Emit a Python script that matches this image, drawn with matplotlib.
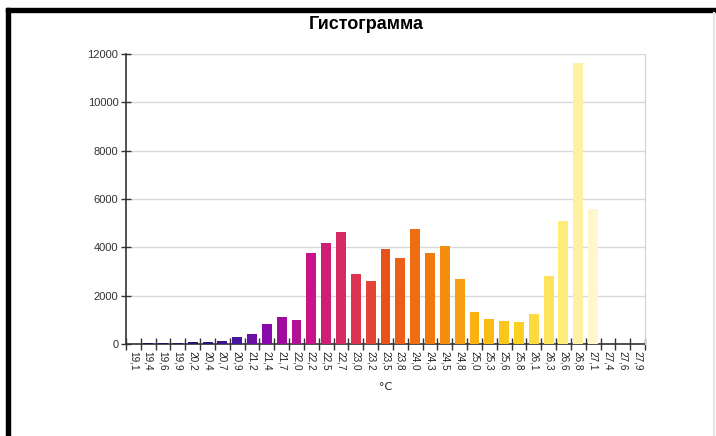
import numpy as np
import matplotlib
matplotlib.use('Agg')
import matplotlib.pyplot as plt
from matplotlib.colors import LinearSegmentedColormap
from matplotlib.patches import Rectangle

# подписи интервалов температуры
labels = ['19,1', '19,4', '19,6', '19,9', '20,2', '20,4', '20,7', '20,9', '21,2',
          '21,4', '21,7', '22,0', '22,2', '22,5', '22,7', '23,0', '23,2', '23,5',
          '23,8', '24,0', '24,3', '24,5', '24,8', '25,0', '25,3', '25,6', '25,8',
          '26,1', '26,3', '26,6', '26,8', '27,1', '27,4', '27,6', '27,9']
# частоты
counts = [0, 40, 40, 40, 80, 80, 110, 275, 430, 840, 1100, 1005, 3750, 4165,
          4620, 2880, 2590, 3915, 3545, 4750, 3755, 4045, 2680, 1340, 1050,
          950, 925, 1255, 2830, 5090, 11620, 5600, 0, 0, 0]

title = 'Гистограмма'
xlabel = '°C'
yticks = [0, 2000, 4000, 6000, 8000, 10000, 12000]

cmap = LinearSegmentedColormap.from_list('heat', [
    (0.0, '#100a30'), (0.03, '#1c1450'), (0.15, '#2d1675'), (0.206, '#4a16a0'),
    (0.265, '#8a0aa8'), (0.353, '#c8138a'), (0.441, '#dd3550'), (0.5, '#e8521c'),
    (0.588, '#f27a0c'), (0.676, '#fab012'), (0.765, '#fdd020'), (0.853, '#feec78'),
    (0.912, '#fff8cc'), (1.0, '#ffffff')])

n = len(labels)
x = np.arange(n)
colors = [cmap(i / (n - 1)) for i in x]

fig = plt.figure(figsize=(7.16, 4.36), dpi=100)
ax = fig.add_axes([126 / 716, 1 - 344 / 436, (645 - 126) / 716, (344 - 54) / 436])

ax.bar(x, counts, width=0.67, color=colors, zorder=3)

ax.set_xlim(-0.5, n - 0.5)
ax.set_ylim(0, 12000)
ax.set_yticks(yticks)
ax.set_yticklabels([str(v) for v in yticks], fontsize=8, color='#333333',
                   family='Liberation Sans')
ax.yaxis.grid(True, color='#d9d9d9', linewidth=1, zorder=0)

ax.set_xticks(np.arange(-0.5, n, 1.0))
ax.set_xticklabels([])
ax.set_xticks(x, minor=True)
ax.set_xticklabels(labels, minor=True, rotation=-90, fontsize=7.2,
                   family='Liberation Sans', color='#222222')
ax.tick_params(axis='x', which='major', direction='inout', length=8,
               width=1, color='#333333')
ax.tick_params(axis='x', which='minor', length=0, pad=5)
ax.tick_params(axis='y', direction='inout', length=7, width=1, color='#333333', pad=2)

for s in ['left', 'bottom']:
    ax.spines[s].set_color('#333333')
    ax.spines[s].set_linewidth(1.2)
    ax.spines[s].set_zorder(2)
ax.spines['top'].set_visible(False)
ax.spines['right'].set_color('#d0d0d0')

ax.set_xlabel(xlabel, fontsize=8, color='#222222', labelpad=8)

fig.text(366 / 716, 1 - 29 / 436, title, ha='center', va='baseline',
         fontsize=13, fontweight='bold', family='Liberation Sans')

# рамка
fig.patches.append(Rectangle((6 / 716, 1 - 12 / 436), 710 / 716, 4 / 436,
                             transform=fig.transFigure, color='black'))
fig.patches.append(Rectangle((6 / 716, 0), 4 / 716, 1 - 8 / 436,
                             transform=fig.transFigure, color='black'))
fig.patches.append(Rectangle((713 / 716, 0), 1 / 716, 1 - 12 / 436,
                             transform=fig.transFigure, color='#e6e6e6'))

fig.savefig('out.png', dpi=100)
